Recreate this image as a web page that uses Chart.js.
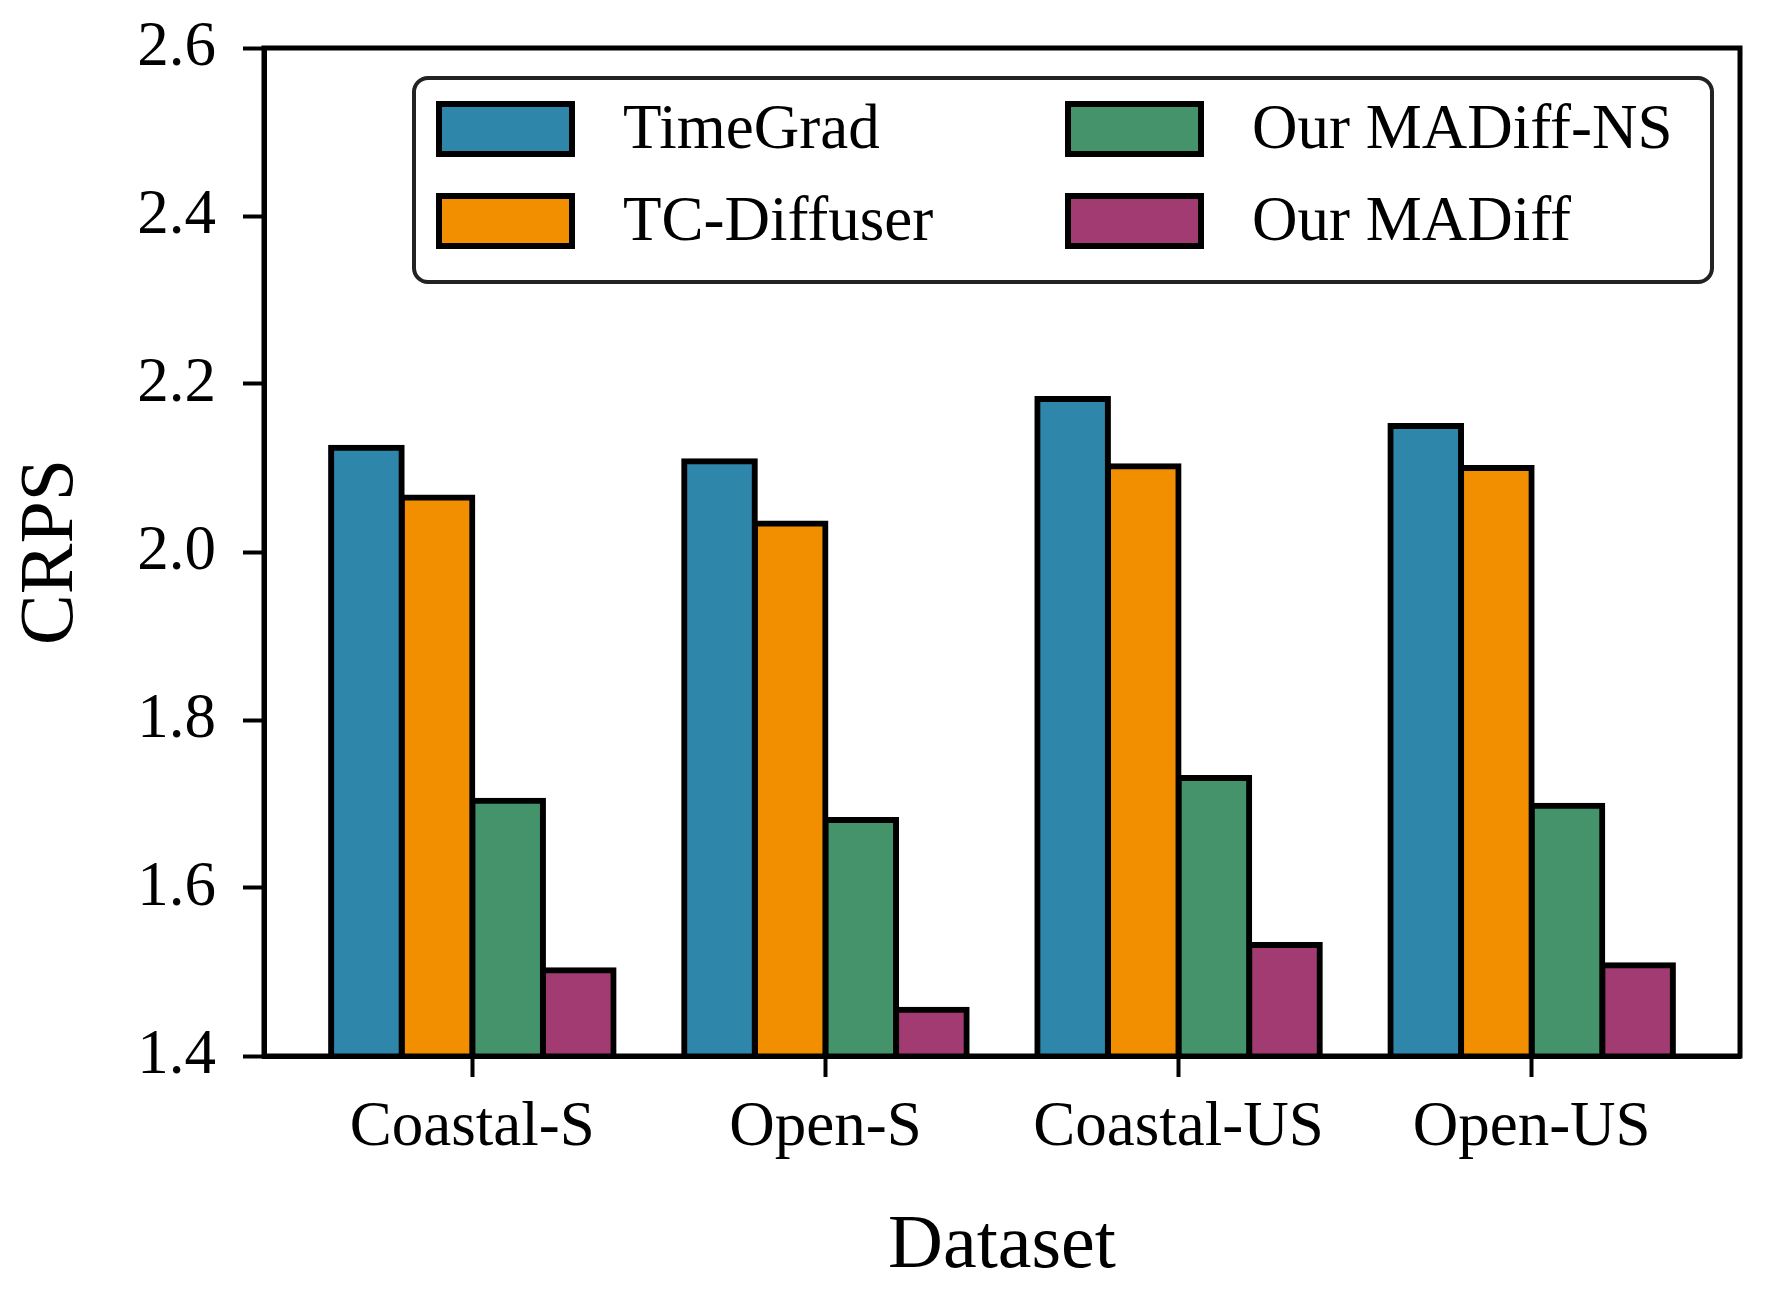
<!DOCTYPE html>
<html lang="en">
<head>
    <meta charset="UTF-8">
    <title>CRPS by dataset</title>
    <script src="https://cdn.jsdelivr.net/npm/chart.js"></script>
    <style>
        html, body { margin: 0; padding: 0; background: #fff; }
        canvas { display: block; }
    </style>
</head>
<body>
    <canvas id="crpsChart" width="1768" height="1295" style="width:1768px;height:1295px"></canvas>

    <script>
        // data
        const categories = ['Coastal-S', 'Open-S', 'Coastal-US', 'Open-US'];
        const seriesNames = ['TimeGrad', 'TC-Diffuser', 'Our MADiff-NS', 'Our MADiff'];
        const timeGrad   = [2.124, 2.108, 2.182, 2.150];
        const tcDiffuser = [2.065, 2.034, 2.102, 2.100];
        const madiffNS   = [1.704, 1.681, 1.731, 1.698];
        const madiff     = [1.502, 1.455, 1.532, 1.508];
        const yTicks = [1.4, 1.6, 1.8, 2.0, 2.2, 2.4, 2.6];

        const colors = ['#2E86AB', '#F18F01', '#44936B', '#A23B72'];
        const serif = "'Liberation Serif', 'Times New Roman', serif";

        const allSeries = [timeGrad, tcDiffuser, madiffNS, madiff];

        const datasets = allSeries.map((vals, s) => ({
            label: seriesNames[s],
            data: vals.map((v, i) => ({ x: i, y: v })),
            backgroundColor: colors[s],
            borderColor: '#000',
            borderWidth: 6,
            inflateAmount: 3,
            base: yTicks[0],
            categoryPercentage: 0.8,
            barPercentage: 1.0
        }));

        // black box around the plot + legend drawn inside it
        const framePlugin = {
            id: 'frame',
            afterDraw(chart) {
                const { ctx, chartArea: a } = chart;
                ctx.save();
                ctx.strokeStyle = '#000';
                ctx.lineWidth = 5;
                ctx.strokeRect(a.left, a.top, a.right - a.left, a.bottom - a.top);

                // legend, two columns, column-major like matplotlib
                const bx = a.left + 150, by = a.top + 30;
                const bw = a.right - 28 - bx, bh = 204;
                ctx.beginPath();
                ctx.roundRect(bx, by, bw, bh, 14);
                ctx.fillStyle = '#fff';
                ctx.fill();
                ctx.lineWidth = 4;
                ctx.strokeStyle = '#222';
                ctx.stroke();

                const colX = [bx + 25, bx + 654];
                const rowY = [by + 51, by + 143];
                ctx.font = '63px ' + serif;
                ctx.textBaseline = 'middle';
                ctx.textAlign = 'left';
                chart.data.datasets.forEach((ds, k) => {
                    const hx = colX[Math.floor(k / 2)];
                    const hy = rowY[k % 2];
                    ctx.fillStyle = ds.backgroundColor;
                    ctx.fillRect(hx, hy - 25, 133, 50);
                    ctx.lineWidth = 6;
                    ctx.strokeStyle = '#000';
                    ctx.strokeRect(hx, hy - 25, 133, 50);
                    ctx.fillStyle = '#000';
                    ctx.fillText(ds.label, hx + 184, hy + 2);
                });
                ctx.restore();
            }
        };

        new Chart(document.getElementById('crpsChart'), {
            type: 'bar',
            data: { datasets },
            plugins: [framePlugin],
            options: {
                responsive: false,
                devicePixelRatio: 1,
                animation: false,
                layout: { padding: { top: 48, right: 28, left: 0, bottom: 0 } },
                plugins: {
                    legend: { display: false },
                    tooltip: { enabled: false }
                },
                scales: {
                    x: {
                        type: 'linear',
                        min: -0.59,
                        max: 3.59,
                        offset: false,
                        afterBuildTicks: s => { s.ticks = categories.map((c, i) => ({ value: i })); },
                        afterFit: s => {
                            s.height = 1295 - 1056;
                            s.paddingLeft = 0;
                            s.paddingRight = 0;
                        },
                        grid: { offset: false, drawOnChartArea: false, tickLength: 21, tickWidth: 4, tickColor: '#000' },
                        border: { display: true, color: '#000', width: 5 },
                        ticks: {
                            autoSkip: false,
                            maxRotation: 0,
                            padding: 14,
                            color: '#000',
                            font: { family: serif, size: 63 },
                            callback: v => categories[v] ?? ''
                        },
                        title: {
                            display: true,
                            text: 'Dataset',
                            color: '#000',
                            font: { family: serif, size: 76 },
                            padding: { top: 0, bottom: 2 }
                        }
                    },
                    y: {
                        min: yTicks[0],
                        max: yTicks[yTicks.length - 1],
                        afterBuildTicks: s => { s.ticks = yTicks.map(v => ({ value: v })); },
                        afterFit: s => {
                            s.width = 264;
                            s.paddingTop = 0;
                            s.paddingBottom = 0;
                        },
                        grid: { drawOnChartArea: false, tickLength: 21, tickWidth: 4, tickColor: '#000' },
                        border: { display: true, color: '#000', width: 5 },
                        ticks: {
                            padding: 27,
                            color: '#000',
                            font: { family: serif, size: 63 },
                            callback: v => Number(v).toFixed(1)
                        },
                        title: {
                            display: true,
                            text: 'CRPS',
                            color: '#000',
                            font: { family: serif, size: 76 },
                            padding: { top: 6, bottom: 0 }
                        }
                    }
                }
            }
        });
    </script>
</body>
</html>
